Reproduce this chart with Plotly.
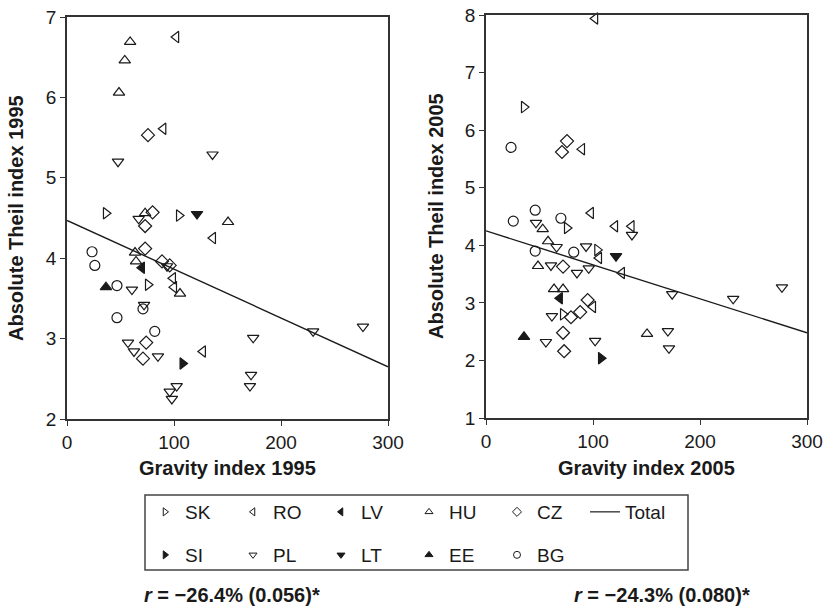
import plotly.graph_objects as go

# ---------------- data ----------------
countries = ["SK", "RO", "LV", "HU", "CZ", "SI", "PL", "LT", "EE", "BG"]
symbols = {"SK": "triangle-right-open", "RO": "triangle-left-open", "LV": "triangle-left",
           "HU": "triangle-up-open", "CZ": "diamond-open", "SI": "triangle-right",
           "PL": "triangle-down-open", "LT": "triangle-down", "EE": "triangle-up",
           "BG": "circle-open"}

# 1995
sk_95_x = [36.4, 104.7, 75.7]
sk_95_y = [4.56, 4.53, 3.67]
ro_95_x = [102, 90, 136.4, 99, 100, 127]
ro_95_y = [6.75, 5.61, 4.25, 3.75, 3.64, 2.84]
lv_95_x = [70]
lv_95_y = [3.88]
hu_95_x = [59, 54, 48.6, 73, 63.6, 64.5, 105.6, 150.5]
hu_95_y = [6.69, 6.46, 6.06, 4.56, 4.07, 3.96, 3.56, 4.45]
cz_95_x = [75.7, 80, 73, 73, 88.8, 96, 74, 71]
cz_95_y = [5.53, 4.57, 4.40, 4.12, 3.96, 3.91, 2.95, 2.75]
si_95_x = [108]
si_95_y = [2.69]
pl_95_x = [47.7, 136, 67, 93.5, 60.7, 72, 57, 62.6, 85, 102.5, 96, 98, 174, 172, 171, 230, 276.6]
pl_95_y = [5.20, 5.29, 4.49, 3.90, 3.61, 3.42, 2.95, 2.84, 2.78, 2.41, 2.34, 2.25, 3.01, 2.55, 2.41, 3.09, 3.15]
lt_95_x = [121.5]
lt_95_y = [4.55]
ee_95_x = [36.4]
ee_95_y = [3.64]
bg_95_x = [23.4, 26, 46.7, 71, 46.7, 82]
bg_95_y = [4.08, 3.91, 3.66, 3.37, 3.26, 3.09]

# 2005
sk_05_x = [35.5, 75.7, 104, 72]
sk_05_y = [6.40, 4.30, 3.92, 2.80]
ro_05_x = [102, 89.7, 98, 120.6, 136, 105.6, 127, 100]
ro_05_y = [7.94, 5.67, 4.56, 4.33, 4.33, 3.78, 3.52, 2.93]
lv_05_x = [69]
lv_05_y = [3.08]
hu_05_x = [53, 58, 48.6, 63.6, 72, 150.5]
hu_05_y = [4.28, 4.07, 3.64, 3.24, 3.24, 2.46]
cz_05_x = [75.7, 71, 72, 95, 79.4, 88, 72, 73]
cz_05_y = [5.81, 5.62, 3.63, 3.05, 2.75, 2.84, 2.48, 2.16]
si_05_x = [107.5]
si_05_y = [2.04]
pl_05_x = [46.7, 136.4, 66, 93.5, 60.7, 85, 96, 61.6, 56, 102, 174, 231, 276.6, 170, 171]
pl_05_y = [4.39, 4.18, 3.97, 3.98, 3.65, 3.52, 3.60, 2.77, 2.32, 2.34, 3.15, 3.07, 3.27, 2.51, 2.21]
lt_05_x = [121.5]
lt_05_y = [3.81]
ee_05_x = [35.5]
ee_05_y = [2.41]
bg_05_x = [23.4, 25.5, 46, 70, 46, 82]
bg_05_y = [5.70, 4.42, 4.61, 4.47, 3.90, 3.88]

trend_x = [0, 300]
trend_1995 = [4.47, 2.65]
trend_2005 = [4.25, 2.48]

x_ticks = [0, 100, 200, 300]
y_ticks_1995 = [2, 3, 4, 5, 6, 7]
y_ticks_2005 = [1, 2, 3, 4, 5, 6, 7, 8]

r_1995 = "<b><i>r</i> = −26.4% (0.056)*</b>"
r_2005 = "<b><i>r</i> = −24.3% (0.080)*</b>"

data_95 = {"SK": (sk_95_x, sk_95_y), "RO": (ro_95_x, ro_95_y), "LV": (lv_95_x, lv_95_y),
           "HU": (hu_95_x, hu_95_y), "CZ": (cz_95_x, cz_95_y), "SI": (si_95_x, si_95_y),
           "PL": (pl_95_x, pl_95_y), "LT": (lt_95_x, lt_95_y), "EE": (ee_95_x, ee_95_y),
           "BG": (bg_95_x, bg_95_y)}
data_05 = {"SK": (sk_05_x, sk_05_y), "RO": (ro_05_x, ro_05_y), "LV": (lv_05_x, lv_05_y),
           "HU": (hu_05_x, hu_05_y), "CZ": (cz_05_x, cz_05_y), "SI": (si_05_x, si_05_y),
           "PL": (pl_05_x, pl_05_y), "LT": (lt_05_x, lt_05_y), "EE": (ee_05_x, ee_05_y),
           "BG": (bg_05_x, bg_05_y)}

# ---------------- figure ----------------
W, H = 836, 609
INK = "#1a1a1a"
FONT = "Arial, 'Liberation Sans', Helvetica, sans-serif"

fig = go.Figure()

def px(xp):
    return xp / W

def py(yp):
    return 1 - yp / H

for ax_suffix, dset, trend in (("", data_95, trend_1995), ("2", data_05, trend_2005)):
    for c in countries:
        xs, ys = dset[c]
        fig.add_trace(go.Scatter(
            x=xs, y=ys, mode="markers", name=c, showlegend=False,
            xaxis="x" + ax_suffix, yaxis="y" + ax_suffix,
            marker=dict(symbol=symbols[c], size=10, color=INK,
                        line=dict(color=INK, width=1.2)),
            cliponaxis=False))
    fig.add_trace(go.Scatter(
        x=trend_x, y=trend, mode="lines", name="Total", showlegend=False,
        xaxis="x" + ax_suffix, yaxis="y" + ax_suffix,
        line=dict(color=INK, width=1.4)))

# legend-only entries (two rows)
row1 = ["SK", "RO", "LV", "HU", "CZ"]
row2 = ["SI", "PL", "LT", "EE", "BG"]
for c in row1:
    fig.add_trace(go.Scatter(x=[None], y=[None], mode="markers", name=c, legend="legend",
                             marker=dict(symbol=symbols[c], size=7, color=INK,
                                         line=dict(color=INK, width=1))))
fig.add_trace(go.Scatter(x=[None], y=[None], mode="lines", name="Total", legend="legend",
                         line=dict(color=INK, width=1.2)))
for c in row2:
    fig.add_trace(go.Scatter(x=[None], y=[None], mode="markers", name=c, legend="legend2",
                             marker=dict(symbol=symbols[c], size=7, color=INK,
                                         line=dict(color=INK, width=1))))

axis_common = dict(showline=True, linecolor="#333", linewidth=1.6, mirror=True,
                   ticks="outside", ticklen=5, tickwidth=1.2, tickcolor="#333",
                   showgrid=False, zeroline=False,
                   tickfont=dict(size=19, color=INK, family=FONT), automargin=False)

def note(text, x, y, size=20, angle=0):
    return dict(text=text, x=px(x), y=py(y), xref="paper", yref="paper",
                xanchor="center", yanchor="middle", showarrow=False, textangle=angle,
                font=dict(size=size, family=FONT, color=INK))

fig.update_layout(
    width=W, height=H,
    margin=dict(l=0, r=0, t=0, b=0),
    paper_bgcolor="white", plot_bgcolor="white",
    font=dict(family=FONT, color=INK, size=19),
    xaxis=dict(domain=[px(67), px(388)], range=[0, 300], tickvals=x_ticks,
               anchor="y", **axis_common),
    yaxis=dict(domain=[py(419), py(17)], range=[2, 7], tickvals=y_ticks_1995,
               anchor="x", **axis_common),
    xaxis2=dict(domain=[px(486), px(807)], range=[0, 300], tickvals=x_ticks,
                anchor="y2", **axis_common),
    yaxis2=dict(domain=[py(418), py(15)], range=[1, 8], tickvals=y_ticks_2005,
                anchor="x2", **axis_common),
    legend=dict(orientation="h", x=px(145), y=py(512), xanchor="left", yanchor="middle",
                entrywidth=43, entrywidthmode="pixels", bgcolor="rgba(0,0,0,0)",
                font=dict(size=19, family=FONT, color=INK), traceorder="normal"),
    legend2=dict(orientation="h", x=px(145), y=py(555), xanchor="left", yanchor="middle",
                 entrywidth=43, entrywidthmode="pixels", bgcolor="rgba(0,0,0,0)",
                 font=dict(size=19, family=FONT, color=INK), traceorder="normal"),
    shapes=[dict(type="rect", xref="paper", yref="paper",
                 x0=px(145), x1=px(688), y0=py(570), y1=py(495),
                 line=dict(color="#444", width=1.5))],
    annotations=[
        note("<b>Gravity index 1995</b>", 228, 468),
        note("<b>Gravity index 2005</b>", 646, 468),
        note("<b>Absolute Theil index 1995</b>", 16, 218, angle=-90),
        note("<b>Absolute Theil index 2005</b>", 436, 216, angle=-90),
        note(r_1995, 232, 595, size=20),
        note(r_2005, 662, 595, size=20),
    ],
)

fig.write_html("out.html")
